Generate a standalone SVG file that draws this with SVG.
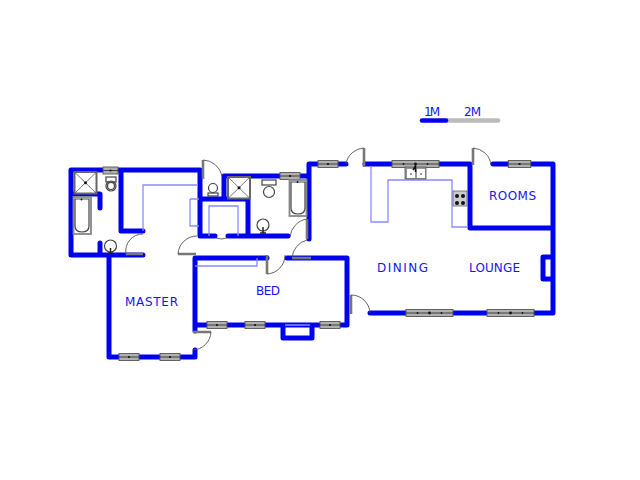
<svg xmlns="http://www.w3.org/2000/svg" width="640" height="480" viewBox="0 0 640 480">
<style>
.w{fill:none;stroke:#0000f0;stroke-width:5;stroke-linecap:round;stroke-linejoin:round}
.u{fill:none;stroke:#8a8aff;stroke-width:1.3}
.leaf{fill:none;stroke:#777;stroke-width:2.6}
.arc{fill:none;stroke:#555;stroke-width:.9}
.win{fill:#b0b0b0;stroke:#555;stroke-width:.9}
.f{fill:none;stroke:#444;stroke-width:1.200}
.g{fill:none;stroke:#888;stroke-width:1.800}
.d{fill:#111}
text{font-family:"DejaVu Sans",sans-serif;font-size:12px;fill:#1414f5}
</style>
<defs>
<g id="wd"><rect class="win" x="-10" y="-3.500" width="20" height="7"/><line x1="-10" x2="10" y1="0" y2="0" stroke="#333" stroke-width=".9"/><circle class="d" r="1.100"/></g>
<g id="wl"><rect class="win" x="-23.500" y="-3.500" width="47" height="7"/><line x1="-23.500" x2="23.500" y1="0" y2="0" stroke="#333" stroke-width=".9"/><circle class="d" r="1.400"/><circle class="d" cx="-12" r=".9"/><circle class="d" cx="12" r=".9"/></g>
<g id="shower"><rect x="0" y="0" width="22" height="21.500" fill="#fff" stroke="#666" stroke-width="2"/><path d="M0 0L22 21.500M22 0L0 21.500" stroke="#555" stroke-width=".8"/><circle class="d" cx="11" cy="10.700" r="1.500"/></g>
</defs>
<g id="connectors">
<path class="w" d="M143 255H71V170H102M118 170H200V236H215M228 236H288M200 199H248M248 236V178M224 176H309M309 239V164H346M365 164H470V228H553M470 164V228M493 164H553V313H370M553 257H543V279H553M100 255V243M100 194V208M71 194H100M121 170V231H143M109 255V357H195V350M195 258V331M195 258H267M287 258H347V325H195M283 325V338H312V325M224 176V199"/>
<path class="u" d="M143 231V185H198M371 166V222H388V180H452V227H468M285 325H310M195 266H257V258M190 199H199M190 199V226H199M209 236V206H238V236"/>
</g>
<g id="doors">
<path class="leaf" d="M126 254H143M178 254H196M203 160V179M193 332H211M267 255V274M292 258H311M307 219V239M351 295V314M364 148V167M473 148V165"/>
<path class="arc" d="M126 254A17 17 0 0 1 143 234M178 254A19 19 0 0 1 197 236M203 160A20 20 0 0 1 222 176M211 332A19 19 0 0 1 193 350M267 274A19 19 0 0 0 285 255M292 258A20 20 0 0 1 307 240M307 219A20 20 0 0 0 290 237M351 295A19 19 0 0 1 370 313M364 148A19 19 0 0 0 346 164M473 148A19 19 0 0 1 491 165M216 238Q221.500 240 227 238"/>
</g>
<g id="windows">
<rect class="win" x="103" y="167" width="15" height="7"/><line x1="103" x2="118" y1="170.500" y2="170.500" stroke="#333" stroke-width=".9"/><circle class="d" cx="110.500" cy="170.500" r="1.100"/>
<use href="#wd" x="328" y="164"/><use href="#wd" x="290" y="176"/><use href="#wd" x="519.500" y="164" transform="translate(-62.300 0) scale(1.120 1)"/>
<use href="#wl" x="415.500" y="164"/><use href="#wl" x="429.500" y="313"/><use href="#wl" x="510.500" y="313"/>
<use href="#wd" x="129" y="357"/><use href="#wd" x="170" y="357"/><use href="#wd" x="217" y="325"/><use href="#wd" x="255" y="325"/><use href="#wd" x="330" y="325"/>
</g>
<g id="fixtures">
<use href="#shower" x="74.500" y="172"/><use href="#shower" x="228" y="177"/>
<rect class="g" x="73.500" y="197" width="17.500" height="37"/><path class="f" d="M75 199H89V226Q89 232 82 232Q75 232 75 226Z"/><circle class="d" cx="81.500" cy="199.500" r=".9"/>
<rect class="g" x="289.500" y="180" width="17" height="36"/><path class="f" d="M291 182H305V208Q305 214 298 214Q291 214 291 208Z"/><circle class="d" cx="297.500" cy="182" r=".9"/>
<g class="f"><rect x="106" y="177" width="10" height="5"/><circle cx="111" cy="186" r="5"/><circle cx="111" cy="186" r="3.500"/>
<rect x="262" y="180" width="14" height="5"/><circle cx="269" cy="192" r="5.500"/>
<rect x="208" y="193" width="10" height="3"/><circle cx="213" cy="188" r="4.500"/>
<circle cx="110.500" cy="246" r="6"/><circle cx="263" cy="225" r="6"/></g>
<path d="M110.500 248V253M108 253H113M263 227V233M260 233H266" stroke="#222" stroke-width="1.500"/>
</g>
<g id="kitchen">
<rect x="405" y="167" width="21" height="12" fill="#999" stroke="#555" stroke-width=".8"/><rect x="407" y="169" width="8" height="9" fill="#fff"/><rect x="417" y="169" width="8" height="9" fill="#fff"/><circle class="d" cx="411" cy="174" r=".8"/><circle class="d" cx="421" cy="174" r=".8"/><path d="M415.500 166L413 170M415.500 164V172" stroke="#111" stroke-width="1.500"/>
<rect x="453" y="191" width="14" height="15" fill="#ccc" stroke="#666" stroke-width=".8"/><circle class="d" cx="457" cy="196" r="2"/><circle class="d" cx="463" cy="196" r="2"/><circle class="d" cx="457" cy="203" r="2"/><circle class="d" cx="463" cy="203" r="2"/>
</g>
<g id="labels">
<text x="125" y="306" textLength="53">MASTER</text>
<text x="256" y="295" textLength="24">BED</text>
<text x="377" y="272" textLength="51">DINING</text>
<text x="469" y="272" textLength="51">LOUNGE</text>
<text x="489" y="200" textLength="47">ROOMS</text>
<text x="424" y="116" textLength="16">1M</text>
<text x="464" y="116" textLength="17">2M</text>
</g>
<g id="scale">
<line x1="447" y1="120.500" x2="498" y2="120.500" stroke="#bbb" stroke-width="4.500" stroke-linecap="round"/>
<line x1="422" y1="120.500" x2="446" y2="120.500" stroke="#0000f0" stroke-width="4.500" stroke-linecap="round"/>
</g>
</svg>
